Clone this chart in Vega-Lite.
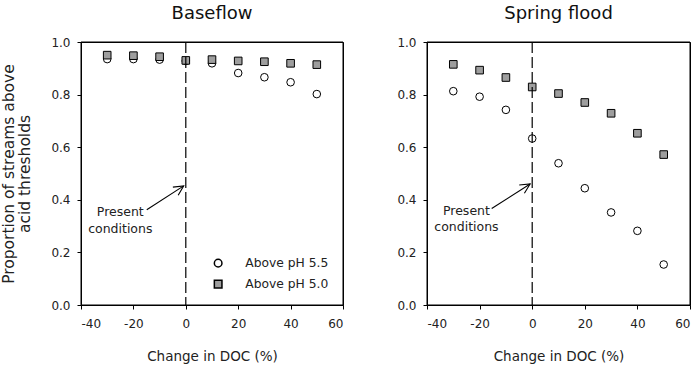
{
  "$schema": "https://vega.github.io/schema/vega-lite/v6.json",
  "background": "white",
  "padding": {"left": 1, "top": 4, "right": 4, "bottom": 2},
  "config": {
    "font": "DejaVu Sans",
    "view": {"stroke": "black", "strokeWidth": 1},
    "axis": {
      "grid": false,
      "domainColor": "black",
      "tickColor": "black",
      "labelColor": "#222",
      "titleColor": "#222",
      "labelFontSize": 12,
      "titleFontWeight": "normal"
    },
    "legend": {"padding": 0},
    "title": {"fontSize": 18, "fontWeight": "normal", "color": "#111", "offset": 13}
  },
  "datasets": {
    "obs": [
      {"season": "Baseflow", "threshold": "Above pH 5.5", "doc": -30, "proportion": 0.935},
      {"season": "Baseflow", "threshold": "Above pH 5.5", "doc": -20, "proportion": 0.935},
      {"season": "Baseflow", "threshold": "Above pH 5.5", "doc": -10, "proportion": 0.933},
      {"season": "Baseflow", "threshold": "Above pH 5.5", "doc": 0, "proportion": 0.928},
      {"season": "Baseflow", "threshold": "Above pH 5.5", "doc": 10, "proportion": 0.919},
      {"season": "Baseflow", "threshold": "Above pH 5.5", "doc": 20, "proportion": 0.882},
      {"season": "Baseflow", "threshold": "Above pH 5.5", "doc": 30, "proportion": 0.866},
      {"season": "Baseflow", "threshold": "Above pH 5.5", "doc": 40, "proportion": 0.847},
      {"season": "Baseflow", "threshold": "Above pH 5.5", "doc": 50, "proportion": 0.802},
      {"season": "Baseflow", "threshold": "Above pH 5.0", "doc": -30, "proportion": 0.950},
      {"season": "Baseflow", "threshold": "Above pH 5.0", "doc": -20, "proportion": 0.948},
      {"season": "Baseflow", "threshold": "Above pH 5.0", "doc": -10, "proportion": 0.944},
      {"season": "Baseflow", "threshold": "Above pH 5.0", "doc": 0, "proportion": 0.930},
      {"season": "Baseflow", "threshold": "Above pH 5.0", "doc": 10, "proportion": 0.933},
      {"season": "Baseflow", "threshold": "Above pH 5.0", "doc": 20, "proportion": 0.928},
      {"season": "Baseflow", "threshold": "Above pH 5.0", "doc": 30, "proportion": 0.925},
      {"season": "Baseflow", "threshold": "Above pH 5.0", "doc": 40, "proportion": 0.919},
      {"season": "Baseflow", "threshold": "Above pH 5.0", "doc": 50, "proportion": 0.914},
      {"season": "Spring flood", "threshold": "Above pH 5.5", "doc": -30, "proportion": 0.813},
      {"season": "Spring flood", "threshold": "Above pH 5.5", "doc": -20, "proportion": 0.792},
      {"season": "Spring flood", "threshold": "Above pH 5.5", "doc": -10, "proportion": 0.742},
      {"season": "Spring flood", "threshold": "Above pH 5.5", "doc": 0, "proportion": 0.633},
      {"season": "Spring flood", "threshold": "Above pH 5.5", "doc": 10, "proportion": 0.539},
      {"season": "Spring flood", "threshold": "Above pH 5.5", "doc": 20, "proportion": 0.444},
      {"season": "Spring flood", "threshold": "Above pH 5.5", "doc": 30, "proportion": 0.352},
      {"season": "Spring flood", "threshold": "Above pH 5.5", "doc": 40, "proportion": 0.282},
      {"season": "Spring flood", "threshold": "Above pH 5.5", "doc": 50, "proportion": 0.154},
      {"season": "Spring flood", "threshold": "Above pH 5.0", "doc": -30, "proportion": 0.915},
      {"season": "Spring flood", "threshold": "Above pH 5.0", "doc": -20, "proportion": 0.893},
      {"season": "Spring flood", "threshold": "Above pH 5.0", "doc": -10, "proportion": 0.865},
      {"season": "Spring flood", "threshold": "Above pH 5.0", "doc": 0, "proportion": 0.829},
      {"season": "Spring flood", "threshold": "Above pH 5.0", "doc": 10, "proportion": 0.804},
      {"season": "Spring flood", "threshold": "Above pH 5.0", "doc": 20, "proportion": 0.770},
      {"season": "Spring flood", "threshold": "Above pH 5.0", "doc": 30, "proportion": 0.729},
      {"season": "Spring flood", "threshold": "Above pH 5.0", "doc": 40, "proportion": 0.653},
      {"season": "Spring flood", "threshold": "Above pH 5.0", "doc": 50, "proportion": 0.572}
    ],
    "present": [{"doc": 0}],
    "note": [
      {"season": "Baseflow", "label": "Present\nconditions", "label_doc": -25, "label_y": 0.352, "tail_doc": -14.9, "tail_y": 0.362, "tip_doc": -0.8, "tip_y": 0.453},
      {"season": "Spring flood", "label": "Present\nconditions", "label_doc": -25, "label_y": 0.358, "tail_doc": -15.4, "tail_y": 0.367, "tip_doc": -0.8, "tip_y": 0.46}
    ]
  },
  "spacing": 52,
  "resolve": {
    "scale": {"shape": "independent", "fill": "independent"},
    "legend": {"shape": "independent", "fill": "independent"}
  },
  "hconcat": [
    {
      "width": 262,
      "height": 263,
      "title": {"text": "Baseflow", "anchor": "middle"},
      "layer": [
        {
          "data": {"name": "present"},
          "mark": {"type": "rect", "filled": false, "stroke": "black", "strokeWidth": 1},
          "encoding": {}
        },
        {
          "data": {"name": "obs"},
          "transform": [{"filter": "datum.season === 'Baseflow'"}],
          "mark": {"type": "point", "filled": true, "stroke": "black", "strokeWidth": 1, "size": 58, "opacity": 1},
          "encoding": {
            "x": {
              "field": "doc", "type": "quantitative",
              "scale": {"domain": [-40, 60], "nice": false, "zero": false},
              "axis": {"title": "Change in DOC (%)", "values": [-40, -20, 0, 20, 40, 60], "labelExpr": "'' + datum.value", "tickSize": 4, "labelPadding": 9, "titleFontSize": 13.5, "titlePadding": 20}
            },
            "y": {
              "field": "proportion", "type": "quantitative",
              "scale": {"domain": [0, 1], "nice": false},
              "axis": {
                "title": ["Proportion of streams above", "acid thresholds"],
                "titleFontSize": 15.5, "titlePadding": 18, "titleLineHeight": 16,
                "values": [0, 0.1, 0.2, 0.3, 0.4, 0.5, 0.6, 0.7, 0.8, 0.9, 1],
                "format": ".1f",
                "labelExpr": "round(datum.value * 10) % 2 == 0 ? datum.label : ''",
                "tickSize": {"condition": {"test": "round(datum.value * 10) % 2 == 1", "value": 3}, "value": 4},
                "labelPadding": 7
              }
            },
            "shape": {
              "field": "threshold", "type": "nominal",
              "scale": {"domain": ["Above pH 5.5", "Above pH 5.0"], "range": ["circle", "square"]},
              "legend": {"title": null, "orient": "none", "legendX": 131, "legendY": 215, "symbolSize": 58, "labelFontSize": 12.3, "labelColor": "#222", "labelOffset": 21, "rowPadding": 7,
                "encode": {"symbols": {"update": {"stroke": {"value": "black"}, "strokeWidth": {"value": 1}}}}}
            },
            "fill": {
              "field": "threshold", "type": "nominal",
              "scale": {"domain": ["Above pH 5.5", "Above pH 5.0"], "range": ["white", "#9e9e9e"]},
              "legend": {"title": null, "orient": "none", "legendX": 131, "legendY": 215, "symbolSize": 58, "labelFontSize": 12.3, "labelColor": "#222", "labelOffset": 21, "rowPadding": 7,
                "encode": {"symbols": {"update": {"stroke": {"value": "black"}, "strokeWidth": {"value": 1}}}}}
            }
          }
        },
        {
          "data": {"name": "present"},
          "mark": {"type": "rule", "color": "black", "strokeWidth": 1.2, "strokeDash": [11, 4]},
          "encoding": {"x": {"field": "doc", "type": "quantitative"}}
        },
        {
          "data": {"name": "note"},
          "transform": [{"filter": "datum.season === 'Baseflow'"}],
          "mark": {"type": "rule", "color": "black", "strokeWidth": 1.1},
          "encoding": {
            "x": {"field": "tail_doc", "type": "quantitative"},
            "y": {"field": "tail_y", "type": "quantitative"},
            "x2": {"field": "tip_doc"},
            "y2": {"field": "tip_y"}
          }
        },
        {
          "data": {"name": "note"},
          "transform": [{"filter": "datum.season === 'Baseflow'"}],
          "mark": {"type": "point", "shape": "M-1,-0.5L0,0L-1,0.5", "filled": false, "stroke": "black", "strokeWidth": 1.1, "size": 380, "angle": 327, "opacity": 1},
          "encoding": {
            "x": {"field": "tip_doc", "type": "quantitative"},
            "y": {"field": "tip_y", "type": "quantitative"}
          }
        },
        {
          "data": {"name": "note"},
          "transform": [{"filter": "datum.season === 'Baseflow'"}],
          "mark": {"type": "text", "lineBreak": "\n", "fontSize": 12.5, "lineHeight": 16.5, "color": "#222", "align": "center", "baseline": "middle"},
          "encoding": {
            "x": {"field": "label_doc", "type": "quantitative"},
            "y": {"field": "label_y", "type": "quantitative"},
            "text": {"field": "label"}
          }
        }
      ]
    },
    {
      "width": 263,
      "height": 263,
      "title": {"text": "Spring flood", "anchor": "middle"},
      "layer": [
        {
          "data": {"name": "present"},
          "mark": {"type": "rect", "filled": false, "stroke": "black", "strokeWidth": 1},
          "encoding": {}
        },
        {
          "data": {"name": "obs"},
          "transform": [{"filter": "datum.season === 'Spring flood'"}],
          "mark": {"type": "point", "filled": true, "stroke": "black", "strokeWidth": 1, "size": 58, "opacity": 1},
          "encoding": {
            "x": {
              "field": "doc", "type": "quantitative",
              "scale": {"domain": [-40, 60], "nice": false, "zero": false},
              "axis": {"title": "Change in DOC (%)", "values": [-40, -20, 0, 20, 40, 60], "labelExpr": "'' + datum.value", "tickSize": 4, "labelPadding": 9, "titleFontSize": 13.5, "titlePadding": 20}
            },
            "y": {
              "field": "proportion", "type": "quantitative",
              "scale": {"domain": [0, 1], "nice": false},
              "axis": {
                "title": "",
                "values": [0, 0.1, 0.2, 0.3, 0.4, 0.5, 0.6, 0.7, 0.8, 0.9, 1],
                "format": ".1f",
                "labelExpr": "round(datum.value * 10) % 2 == 0 ? datum.label : ''",
                "tickSize": {"condition": {"test": "round(datum.value * 10) % 2 == 1", "value": 3}, "value": 4},
                "labelPadding": 7
              }
            },
            "shape": {
              "field": "threshold", "type": "nominal",
              "scale": {"domain": ["Above pH 5.5", "Above pH 5.0"], "range": ["circle", "square"]},
              "legend": null
            },
            "fill": {
              "field": "threshold", "type": "nominal",
              "scale": {"domain": ["Above pH 5.5", "Above pH 5.0"], "range": ["white", "#9e9e9e"]},
              "legend": null
            }
          }
        },
        {
          "data": {"name": "present"},
          "mark": {"type": "rule", "color": "black", "strokeWidth": 1.2, "strokeDash": [11, 4]},
          "encoding": {"x": {"field": "doc", "type": "quantitative"}}
        },
        {
          "data": {"name": "note"},
          "transform": [{"filter": "datum.season === 'Spring flood'"}],
          "mark": {"type": "rule", "color": "black", "strokeWidth": 1.1},
          "encoding": {
            "x": {"field": "tail_doc", "type": "quantitative"},
            "y": {"field": "tail_y", "type": "quantitative"},
            "x2": {"field": "tip_doc"},
            "y2": {"field": "tip_y"}
          }
        },
        {
          "data": {"name": "note"},
          "transform": [{"filter": "datum.season === 'Spring flood'"}],
          "mark": {"type": "point", "shape": "M-1,-0.5L0,0L-1,0.5", "filled": false, "stroke": "black", "strokeWidth": 1.1, "size": 380, "angle": 328, "opacity": 1},
          "encoding": {
            "x": {"field": "tip_doc", "type": "quantitative"},
            "y": {"field": "tip_y", "type": "quantitative"}
          }
        },
        {
          "data": {"name": "note"},
          "transform": [{"filter": "datum.season === 'Spring flood'"}],
          "mark": {"type": "text", "lineBreak": "\n", "fontSize": 12.5, "lineHeight": 16.5, "color": "#222", "align": "center", "baseline": "middle"},
          "encoding": {
            "x": {"field": "label_doc", "type": "quantitative"},
            "y": {"field": "label_y", "type": "quantitative"},
            "text": {"field": "label"}
          }
        }
      ]
    }
  ]
}
